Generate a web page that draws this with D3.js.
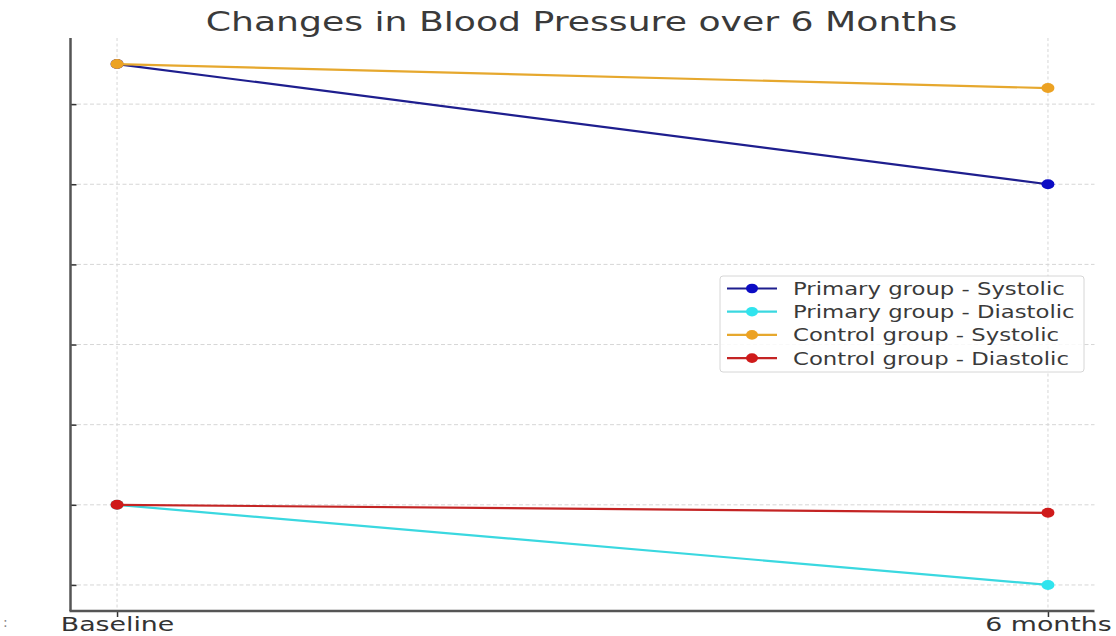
<!DOCTYPE html>
<html>
<head>
<meta charset="utf-8">
<script src="https://cdn.jsdelivr.net/npm/d3@7"></script>
<style>
  html, body { margin: 0; padding: 0; background: #fff; }
  svg { display: block; }
  text { font-family: "DejaVu Sans", sans-serif; }
</style>
</head>
<body>
<svg id="chart" width="1116" height="636"></svg>
<script>
// ---- data ----
const timePoints = ["Baseline", "6 months"];
const seriesNames = [
  "Primary group - Systolic",
  "Primary group - Diastolic",
  "Control group - Systolic",
  "Control group - Diastolic"
];
const primarySystolic = [145, 130];
const primaryDiastolic = [90, 80];
const controlSystolic = [145, 142];
const controlDiastolic = [90, 89];
const yTicks = [80, 90, 100, 110, 120, 130, 140];
const seriesColors = ["#0c0cc4", "#30e4ee", "#eca223", "#cf1a1a"];
const lineColors = ["#1e1e8e", "#3ad8e0", "#e6a82e", "#c42424"];

const seriesValues = [primarySystolic, primaryDiastolic, controlSystolic, controlDiastolic];

const SX = 1.34; // horizontal stretch of the original picture
const svg = d3.select("#chart");
const mLeft = 70.5, mRight = 1094.5, mTop = 38, mBottom = 611;

const x = d3.scaleLinear().domain([-0.05, 1.05]).range([mLeft, mRight]);
const y = d3.scaleLinear().domain([76.75, 148.25]).range([mBottom, mTop]);

function stretchedText(parent, tx, ty, str, size, anchor, fill) {
  return parent.append("text")
    .attr("transform", `translate(${tx},${ty}) scale(${SX},1)`)
    .attr("text-anchor", anchor).attr("font-size", size)
    .attr("fill", fill).text(str);
}

// grid
const grid = svg.append("g");
grid.selectAll("line.h").data(yTicks).enter().append("line")
  .attr("x1", mLeft).attr("x2", mRight)
  .attr("y1", d => y(d)).attr("y2", d => y(d))
  .attr("stroke", "#d6d6d6").attr("stroke-width", 1).attr("stroke-dasharray", "4,2.5");
grid.selectAll("line.v").data(timePoints).enter().append("line")
  .attr("x1", (d, i) => x(i)).attr("x2", (d, i) => x(i))
  .attr("y1", mTop).attr("y2", mBottom)
  .attr("stroke", "#d6d6d6").attr("stroke-width", 1).attr("stroke-dasharray", "3,2.5");

// lines & markers
const line = d3.line().x((d, i) => x(i)).y(d => y(d));
seriesValues.forEach((vals, k) => {
  svg.append("path").datum(vals)
    .attr("d", line).attr("fill", "none")
    .attr("stroke", lineColors[k]).attr("stroke-width", 2.2);
  svg.selectAll(null).data(vals).enter().append("ellipse")
    .attr("cx", (d, i) => x(i)).attr("cy", d => y(d)).attr("rx", 6.5).attr("ry", 5)
    .attr("fill", seriesColors[k]);
});

// axes
const yAxis = d3.axisLeft(y).tickValues(yTicks).tickSize(-6).tickFormat("");
const gy = svg.append("g").attr("transform", `translate(${mLeft},0)`).call(yAxis);
gy.select(".domain").remove();
gy.selectAll(".tick line").attr("stroke", "#333").attr("stroke-width", 1.5);
svg.append("line").attr("x1", mLeft).attr("x2", mLeft).attr("y1", mTop).attr("y2", mBottom)
  .attr("stroke", "#555").attr("stroke-width", 2.5);

const xAxis = d3.axisBottom(x).tickValues([0, 1]).tickSize(6).tickFormat("");
const gx = svg.append("g").attr("transform", `translate(0,${mBottom})`).call(xAxis);
gx.select(".domain").remove();
gx.selectAll(".tick line").attr("stroke", "#333").attr("stroke-width", 1.5);
gx.selectAll(".tick").each(function (d) {
  stretchedText(d3.select(this), 0, 20, timePoints[d], 20, "middle", "#333");
});
svg.append("line").attr("x1", mLeft - 1).attr("x2", mRight).attr("y1", mBottom).attr("y2", mBottom)
  .attr("stroke", "#555").attr("stroke-width", 2.5);

// cropped artifact at lower left
svg.append("text").attr("x", 3).attr("y", 627).attr("font-size", 14).attr("fill", "#888").text(":");

// title
stretchedText(svg, 581.5, 31, "Changes in Blood Pressure over 6 Months", 27, "middle", "#3a3a3a");

// legend
const lg = svg.append("g").attr("transform", "translate(720,276)");
lg.append("rect").attr("width", 364).attr("height", 96).attr("rx", 3)
  .attr("fill", "#fff").attr("fill-opacity", 0.85).attr("stroke", "#d6d6d6");
seriesNames.forEach((name, k) => {
  const yy = 12.5 + k * 23.2;
  lg.append("line").attr("x1", 7).attr("x2", 57).attr("y1", yy).attr("y2", yy)
    .attr("stroke", lineColors[k]).attr("stroke-width", 2.2);
  lg.append("ellipse").attr("cx", 32).attr("cy", yy).attr("rx", 6).attr("ry", 4.8).attr("fill", seriesColors[k]);
  stretchedText(lg, 73, yy + 6.5, name, 17, "start", "#3a3a3a");
});
</script>
</body>
</html>
